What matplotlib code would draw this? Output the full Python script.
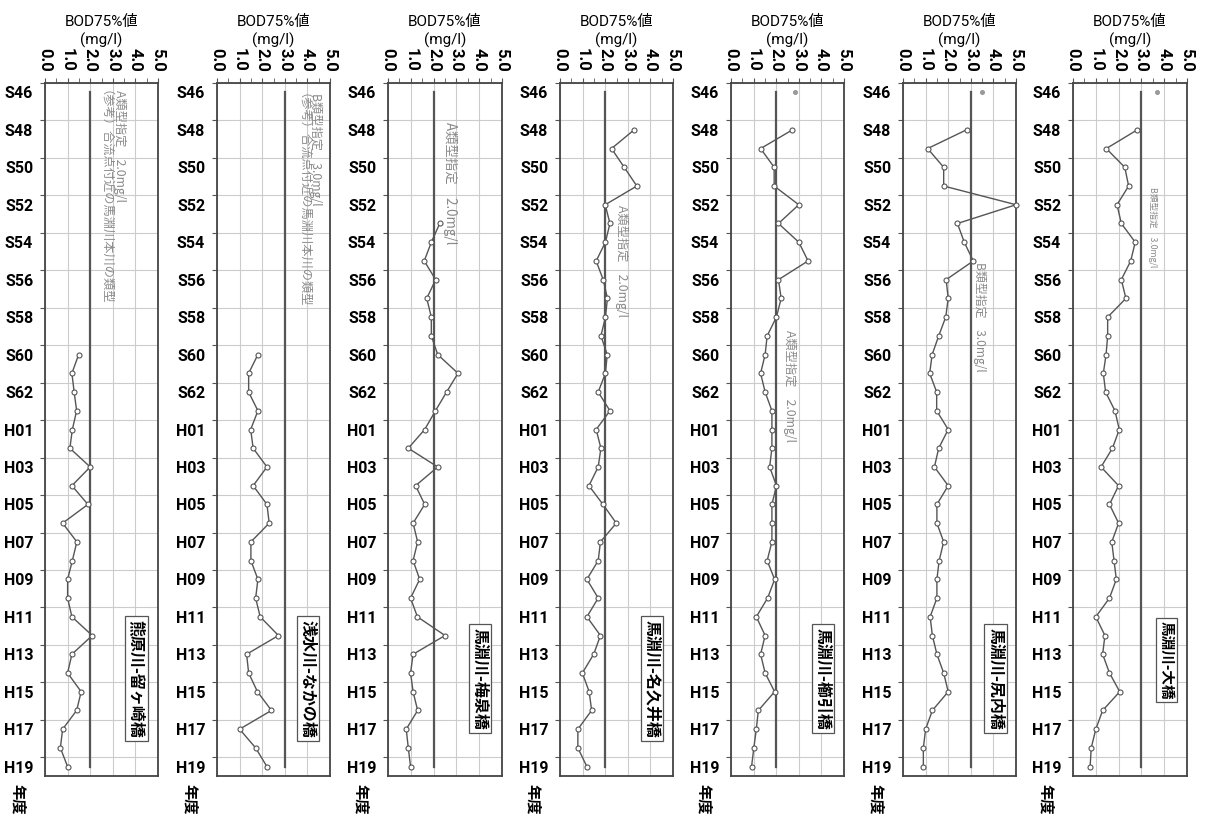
import numpy as np
import matplotlib
matplotlib.use('Agg')
import matplotlib.pyplot as plt

LAT = 'Roboto'
CJK = 'Noto Sans CJK JP'
plt.rcParams['font.family'] = [LAT, CJK, 'DejaVu Sans']

# ---------------- data ----------------
year_labels = ['S46', 'S47', 'S48', 'S49', 'S50', 'S51', 'S52', 'S53', 'S54', 'S55',
               'S56', 'S57', 'S58', 'S59', 'S60', 'S61', 'S62', 'S63',
               'H01', 'H02', 'H03', 'H04', 'H05', 'H06', 'H07', 'H08', 'H09', 'H10',
               'H11', 'H12', 'H13', 'H14', 'H15', 'H16', 'H17', 'H18', 'H19']
x_ticks = [0.0, 1.0, 2.0, 3.0, 4.0, 5.0]

stations = ['熊原川-留ヶ崎橋', '浅水川-なかの橋', '馬淵川-梅泉橋', '馬淵川-名久井橋',
            '馬淵川-櫛引橋', '馬淵川-尻内橋', '馬淵川-大橋']
standards = [2.0, 3.0, 2.0, 2.0, 2.0, 3.0, 3.0]
standard_notes = [['A類型指定　2.0mg/l', '（参考）合流点付近の馬淵川本川の類型'],
                  ['B類型指定　3.0mg/l', '（参考）合流点付近の馬淵川本川の類型'],
                  ['A類型指定　2.0mg/l'],
                  ['A類型指定　2.0mg/l'],
                  ['A類型指定　2.0mg/l'],
                  ['B類型指定　3.0mg/l'],
                  ['B類型指定　3.0mg/l']]
start_years = ['S60', 'S60', 'S53', 'S48', 'S48', 'S48', 'S48']

kumahara = [1.49, 1.19, 1.29, 1.40, 1.21, 1.10, 2.00, 1.19, 1.90, 0.78, 1.41, 1.21,
            1.00, 1.00, 1.19, 2.09, 1.19, 1.00, 1.60, 1.40, 0.78, 0.68, 1.00]
asamizu = [1.81, 1.40, 1.40, 1.81, 1.49, 1.60, 2.21, 1.60, 2.21, 2.31, 1.50, 1.50,
           1.81, 1.71, 1.91, 2.72, 1.31, 1.40, 1.79, 2.41, 1.00, 1.71, 2.21]
baisen = [2.27, 1.90, 1.59, 2.09, 1.70, 1.90, 1.90, 2.18, 3.07, 2.57, 2.08,
          1.61, 0.89, 2.18, 1.21, 1.61, 1.10, 1.30, 1.10, 1.39, 0.99, 1.29, 2.50,
          1.10, 0.99, 1.10, 1.30, 0.80, 0.89, 0.99]
nakui = [3.28, 2.28, 2.84, 3.40, 2.00, 2.21, 2.01, 1.60, 1.91, 2.10, 2.01, 1.81,
         2.09, 2.01, 1.69, 2.21,
         1.60, 1.81, 1.69, 1.28, 1.90, 2.49, 1.79, 1.69, 1.19, 1.69, 1.19, 1.79,
         1.49, 0.99, 1.29, 1.40, 0.79, 0.79, 1.19]
kushibiki = [2.72, 1.31, 1.91, 1.91, 3.00, 2.10, 3.00, 3.41, 2.10, 2.22, 2.01, 1.60,
             1.51, 1.31, 1.51, 1.81,
             1.81, 1.81, 1.71, 2.01, 1.81, 1.81, 1.81, 1.60, 1.93, 1.62, 1.12, 1.51,
             1.31, 1.51, 1.93, 1.21, 1.12, 1.01, 0.91]
shiriuchi = [2.81, 1.09, 1.80, 1.80, 5.00, 2.41, 2.71, 3.11, 1.91, 2.00, 1.89, 1.58,
             1.29, 1.18, 1.49, 1.49,
             2.00, 1.58, 1.39, 2.00, 1.50, 1.50, 1.80, 1.60, 1.50, 1.50, 1.20, 1.30,
             1.50, 1.80, 2.00, 1.30, 1.00, 0.90, 0.90]
ohashi = [2.82, 1.46, 2.27, 2.44, 1.93, 2.12, 2.73, 2.53, 2.12, 2.32, 1.52, 1.52,
          1.45, 1.33, 1.43, 1.84,
          2.03, 1.73, 1.23, 2.00, 1.60, 2.00, 1.70, 1.80, 1.90, 1.60, 1.00, 1.40,
          1.30, 1.60, 2.05, 1.30, 1.00, 0.80, 0.75]
series = [kumahara, asamizu, baisen, nakui, kushibiki, shiriuchi, ohashi]
# isolated S46 values (shown as a lone grey dot)
s46_values = [None, None, None, None, 2.81, 3.48, 3.70]

# ---------------- layout (styles) ----------------
W, H = 1207, 821
panel_px = [(45, 158), (217, 330), (388, 502), (560, 673), (731, 844), (903, 1016), (1073, 1187)]
top_px, bot_px = 83, 776
# centre x of each note line (data units) and top y (category index)
note_x = [[3.28, 2.36], [4.38, 3.5], [2.72], [2.74], [2.61], [3.41], [3.51]]
note_y = [-0.15, 0.05, 1.6, 6.0, 12.7, 9.05, 5.05]
note_size = [8.8, 8.8, 9.6, 8.8, 8.8, 8.6, 6.3]
box_center = [(4.05, 31.3), (4.02, 31.3), (4.03, 31.3), (4.07, 31.3), (4.07, 31.3),
              (4.1, 31.3), (4.1, 30.3)]
box_size = [11.5, 11.5, 11.5, 11.5, 11.5, 11.5, 10.5]

fig = plt.figure(figsize=(W / 100, H / 100), dpi=100)
n = len(year_labels)
idx_all = np.arange(n)

for k in range(7):
    l, r = panel_px[k]
    ax = fig.add_axes([l / W, 1 - bot_px / H, (r - l) / W, (bot_px - top_px) / H])
    ax.set_xlim(0, 5)
    ax.set_ylim(n - 0.5, -0.5)
    ax.set_axisbelow(True)

    # x axis on top
    ax.xaxis.tick_top()
    ax.set_xticks(x_ticks)
    ax.set_xticklabels([f'{v:.1f}' for v in x_ticks], rotation=-90,
                       fontsize=12, fontweight='bold', family=LAT)
    ax.set_xticks([v + 0.5 for v in x_ticks[:-1]], minor=True)
    ax.tick_params(axis='x', which='both', length=3.5, direction='out', color='#555', pad=4.5)

    # y axis: boundaries (ticks + grid) and labels at category centres
    ax.set_yticks([i - 0.5 for i in range(0, n, 2)])
    ax.set_yticklabels([])
    ax.set_yticks(list(range(0, n, 2)), minor=True)
    ax.set_yticklabels(year_labels[::2], minor=True, fontsize=11.5, fontweight='bold', family=LAT)
    ax.tick_params(axis='y', which='major', length=3.5, direction='out', color='#555')
    ax.tick_params(axis='y', which='minor', length=0, pad=8.5)

    ax.grid(True, which='major', color='#cccccc', lw=0.8)
    for sp in ax.spines.values():
        sp.set_color('#444')
        sp.set_linewidth(1.3)

    # standard line
    ax.plot([standards[k], standards[k]], [0, n - 1], color='#555', lw=1.6, zorder=2)

    # data
    s = year_labels.index(start_years[k])
    vals = series[k]
    yy = idx_all[s:s + len(vals)]
    ax.plot(vals, yy, '-o', color='#555', lw=1.0, ms=3.6, mfc='white', mec='#555',
            mew=0.8, clip_on=False, zorder=3)
    if s46_values[k] is not None:
        ax.plot([s46_values[k]], [0], 'o', color='#999', ms=2.6, zorder=3)

    # notes (one text per line, rotated)
    for line, lx in zip(standard_notes[k], note_x[k]):
        ax.text(lx, note_y[k], line, rotation=-90, ha='center', va='top', color='#8a8a8a',
                fontsize=note_size[k], family=CJK, zorder=4)

    # station name box
    bx, by = box_center[k]
    ax.text(bx, by, stations[k], rotation=-90, ha='center', va='center', fontsize=box_size[k],
            family=CJK, fontweight='bold', color='black', zorder=5,
            bbox=dict(boxstyle='square,pad=0.2', fc='white', ec='#555', lw=0.9))

    # titles
    cx = (l + r) / 2
    fig.text(cx / W, 1 - 22 / H, 'BOD75%値', ha='center', va='center', fontsize=11,
             family=[LAT, CJK])
    fig.text(cx / W, 1 - 40 / H, '(mg/l)', ha='center', va='center', fontsize=11,
             family=[LAT, CJK])
    fig.text((l - 27) / W, 1 - 784 / H, '年度', rotation=-90, ha='center', va='top',
             fontsize=11, fontweight='bold', family=CJK)

fig.savefig('out.png', dpi=100)
